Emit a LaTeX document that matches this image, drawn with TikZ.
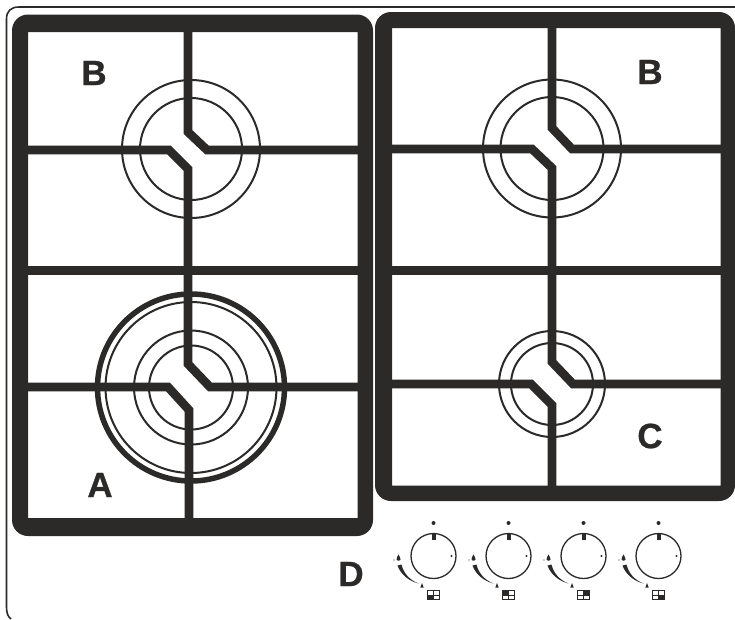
\documentclass[tikz,border=0pt]{standalone}
\usepackage{fontspec}
\setmainfont{Liberation Sans}[BoldFeatures={FakeBold=0.7}]
\definecolor{ink}{HTML}{2B2A29}
\tikzset{
  x=1pt,y=-1pt,
  frame/.style={fill=ink,even odd rule},
  bar/.style={draw=ink,line width=8.7pt,line join=miter},
  ring/.style={draw=ink,line width=2pt},
  thick ring/.style={draw=ink,line width=5.5pt},
  letter/.style={font=\fontsize{35}{35}\selectfont\bfseries,text=ink,inner sep=0pt,anchor=center},
  knobring/.style={draw=ink,line width=1.3pt}
}
\newcommand{\knob}[3]{%
  \begin{scope}[shift={(#1,0)}]
    \draw[knobring] (0,556) circle[radius=22.5];
    \fill[ink] (-2,534) rectangle (2,539.5);
    \fill[ink] (0,523) circle[radius=2];
    \fill[ink] (18,556) circle[radius=1.2];
    % large flame
    \fill[ink] (-35,554.5) .. controls (-34,556.5) and (-33,557.5) .. (-33,559.5)
      .. controls (-33,561) and (-37,561) .. (-37,559.5)
      .. controls (-37,557.5) and (-36,556.5) .. (-35,554.5) -- cycle;
    \fill[ink] (-39.5,560) circle[radius=0.7];
    % tapered arc
    \fill[ink] (-36,565.5) .. controls (-33,574) and (-25,581) .. (-15,583.5)
      .. controls (-24,580) and (-30,573) .. (-32,564.5) -- cycle;
    % small flame
    \fill[ink] (-11.5,583) -- (-9.8,587.5) -- (-13.2,587.5) -- cycle;
    % quadrant box
    \fill[ink] (#2,#3) rectangle ++(6.2,4.5);
    \draw[ink,line width=1pt] (-6,590.5) rectangle (6,599.5);
    \draw[ink,line width=0.9pt] (0,590.5) -- (0,599.5) (-6,595) -- (6,595);
  \end{scope}}
\begin{document}
\begin{tikzpicture}
\useasboundingbox (0,0) rectangle (735,619);
\fill[white] (0,0) rectangle (735,619);
% outer outline
\draw[draw=ink,line width=1.6pt] (735,7) -- (19,7) .. controls (11,7) and (6.5,11) .. (6.5,19) -- (6.5,607) .. controls (6.5,613) and (8,617) .. (11,619);
% burners
\draw[ring] (191,149) circle[radius=69];
\draw[ring] (191,149) circle[radius=51];
\draw[thick ring] (191,387.5) circle[radius=93.5];
\draw[ring] (191,387.5) circle[radius=85.5];
\draw[ring] (191,387.5) circle[radius=57];
\draw[ring] (191,387.5) circle[radius=42];
\draw[ring] (552,148.5) circle[radius=69];
\draw[ring] (552,148.5) circle[radius=51.5];
\draw[ring] (552,384) circle[radius=53];
\draw[ring] (552,384) circle[radius=41];
% left grate
\path[frame] [rounded corners=16pt] (12,14.5) rectangle (373,536)
  [sharp corners] (28,32) rectangle (357.5,518);
\draw[bar] (188,32) -- (188,132) -- (207,150) -- (358,150);
\draw[bar] (28,150) -- (169,150) -- (188,169) -- (188,270);
\draw[bar] (28,270.5) -- (358,270.5);
\draw[bar] (188,270) -- (188,364) -- (210,387) -- (358,387);
\draw[bar] (28,387) -- (168,387) -- (189,410) -- (189,519);
% right grate
\path[frame] [rounded corners=16pt] (375,12) rectangle (735,501)
  [sharp corners] (392,28) rectangle (720.5,485.5);
\draw[bar] (552,28) -- (552,128) -- (572,149) -- (721,149);
\draw[bar] (392,149) -- (532,149) -- (552,168) -- (552,270);
\draw[bar] (392,270.5) -- (721,270.5);
\draw[bar] (552,270) -- (552,362) -- (573,384) -- (721,384);
\draw[bar] (392,384) -- (531,384) -- (552,405) -- (552,486);
% labels
\node[letter] (lb1) at (94,73) {B};
\node[letter] (lb2) at (650,72) {B};
\node[letter] (la) at (100,485) {A};
\node[letter] (lc) at (650,436) {C};
\node[letter] (ld) at (351,574) {D};
% knobs
\knob{433.5}{-6}{595}
\knob{508.5}{-6}{590.5}
\knob{583.5}{0}{590.5}
\knob{658.5}{0}{595}
\end{tikzpicture}
\end{document}
